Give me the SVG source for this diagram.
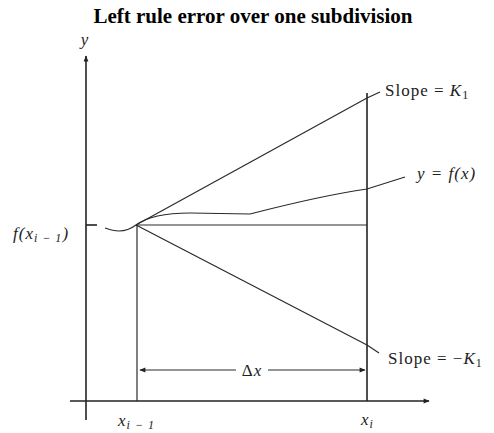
<svg xmlns="http://www.w3.org/2000/svg" width="494" height="433" viewBox="0 0 494 433">
<style>
.ln{stroke:#2a2a2a;stroke-width:1.2;fill:none}
.th{stroke:#222;stroke-width:1.6;fill:none}
.lb{font-family:"Liberation Serif",serif;font-size:17px;fill:#222;letter-spacing:1px}
.it{font-style:italic}
.sub{font-size:12px}
.title{font-family:"Liberation Serif",serif;font-size:21px;font-weight:bold;fill:#000}
</style>
<defs>
<marker id="ah" viewBox="0 0 10 10" refX="9" refY="5" markerWidth="9" markerHeight="6" orient="auto-start-reverse" markerUnits="userSpaceOnUse">
<path d="M0,1 L10,5 L0,9 Z" fill="#222"/>
</marker>
</defs>
<rect width="494" height="433" fill="#fff"/>
<text class="title" x="253" y="23" text-anchor="middle">Left rule error over one subdivision</text>
<g id="axes">
<line class="th" x1="86" y1="420" x2="86" y2="56" marker-end="url(#ah)"/>
<line class="th" x1="70" y1="401" x2="429" y2="401" marker-end="url(#ah)"/>
<line class="th" x1="86" y1="225" x2="97" y2="225"/>
<text class="lb it" x="85" y="45" text-anchor="middle" font-size="15">y</text>
</g>
<g id="connectors">
<line class="ln" x1="137" y1="225" x2="137" y2="401"/>
<line class="th" x1="367" y1="93" x2="367" y2="401"/>
<line class="ln" x1="136" y1="225" x2="367" y2="98"/>
<line class="ln" x1="136" y1="225" x2="367" y2="225"/>
<line class="ln" x1="136" y1="225" x2="367" y2="345"/>
<path class="ln" stroke-width="1.5" d="M105,228 C113,231 124,234 136,225 C148,216 165,213 190,213 L250,214 C285,205 325,195 367,189 L405,177"/>
<line class="ln" x1="367" y1="98" x2="380" y2="92"/>
<line class="ln" x1="367" y1="345" x2="379" y2="353"/>
<line class="ln" x1="140" y1="370" x2="236" y2="370" marker-start="url(#ah)"/>
<line class="ln" x1="268" y1="370" x2="365" y2="370" marker-end="url(#ah)"/>
</g>
<g id="labels">
<text class="lb it" x="13" y="239">f(x<tspan class="sub" dy="3">i − 1</tspan><tspan dy="-3">)</tspan></text>
<text class="lb" x="385" y="96">Slope = <tspan class="it">K</tspan><tspan class="sub" dy="3">1</tspan></text>
<text class="lb it" x="417" y="179">y = f(x)</text>
<text class="lb" x="388" y="364">Slope = −<tspan class="it">K</tspan><tspan class="sub" dy="3">1</tspan></text>
<text class="lb" x="252" y="376" text-anchor="middle">Δ<tspan class="it">x</tspan></text>
<text class="lb it" x="118" y="426">x<tspan class="sub" dy="3">i − 1</tspan></text>
<text class="lb it" x="361" y="425">x<tspan class="sub" dy="3">i</tspan></text>
</g>
</svg>
